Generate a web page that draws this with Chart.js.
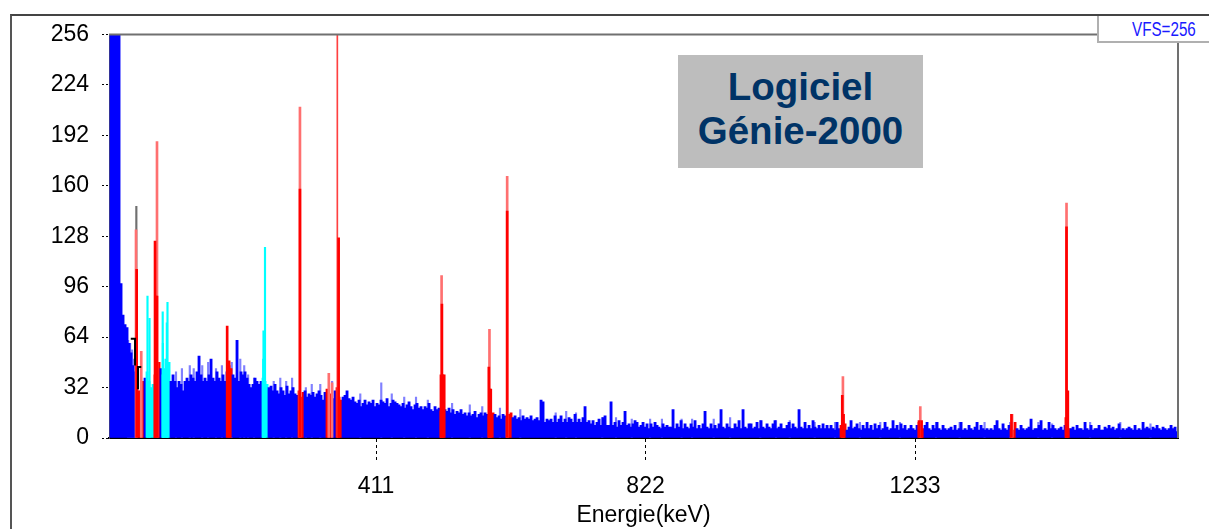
<!DOCTYPE html>
<html>
<head>
<meta charset="utf-8">
<script src="https://cdn.jsdelivr.net/npm/chart.js@4"></script>
<style>
  body { margin: 0; background: #fff; }
  #page { position: relative; width: 1209px; height: 529px; overflow: hidden; font-family: "Liberation Sans", Arial, sans-serif; }
  #frame { position: absolute; left: 10px; top: 14px; right: -5px; bottom: -5px; border-top: 2px solid #444; border-left: 2px solid #555; }
  #vfs { position: absolute; left: 1097px; top: 16px; width: 120px; height: 25px; background: #fff; border-style: solid; border-width: 0 0 2px 2px; border-color: #b0b0b0; color: #1a1aff; font: 20px/26px "Liberation Sans", sans-serif; }
  #vfs span { position: absolute; left: 33px; transform: scaleX(0.76); transform-origin: left center; white-space: nowrap; }
  #logo { position: absolute; left: 678px; top: 55px; width: 245px; height: 113px; background: #bdbdbd; color: #003366; font-weight: bold; font-size: 38.5px; line-height: 44px; text-align: center; padding-top: 10px; box-sizing: border-box; }
</style>
</head>
<body>
<div id="page">
  <canvas id="grafico" width="1209" height="529"></canvas>
  <div id="frame"></div>
  <div id="vfs"><span>VFS=256</span></div>
  <div id="logo">Logiciel<br>Génie-2000</div>
</div>
<script>
// spectrum, one value per bin
const firstKeV = 6.9;
const binKeV = 3.05;
const counts = [
  256,256,256,256,256,98,78,72,70,60,54,46,42,38,30,30,36,38,42,36,
  32,34,40,46,48,44,40,42,46,48,36,40,36,32,36,34,30,36,38,36,
  40,38,36,42,52,40,36,38,36,40,50,38,36,42,38,36,40,36,42,46,
  44,40,38,62,36,42,40,42,38,34,32,34,38,36,34,36,38,36,34,32,
  33,30,34,30,28,32,30,27,33,28,30,32,28,27,30,26,29,30,26,28,
  27,29,26,28,30,27,24,29,31,26,28,25,30,32,26,24,26,27,30,25,
  24,26,23,22,24,20,22,24,21,23,22,24,20,22,21,24,23,22,25,20,
  22,24,23,22,21,20,22,19,21,23,20,18,21,22,19,20,18,20,19,22,
  18,17,20,18,19,17,16,18,17,19,16,18,15,17,16,18,15,16,14,16,
  14,15,17,13,15,16,14,16,15,14,13,16,15,13,14,12,15,14,13,15,
  16,13,14,12,13,11,14,12,13,12,14,11,12,13,11,24,23,10,12,11,
  12,10,14,10,12,14,10,12,10,13,12,10,15,10,12,10,13,20,10,11,
  9,11,8,10,12,8,13,14,8,8,23,8,10,7,11,8,10,17,8,9,
  7,9,11,10,7,8,10,7,9,6,9,7,10,8,7,6,9,7,8,7,
  7,18,6,9,7,11,6,9,7,6,9,7,11,6,8,6,9,17,7,6,
  9,6,8,6,9,18,7,6,9,7,6,6,9,7,11,6,18,7,6,9,
  9,6,7,10,6,11,7,6,9,7,6,9,11,6,7,9,6,6,8,10,
  6,9,7,6,18,7,6,10,6,8,6,11,7,6,8,6,9,6,8,6,
  8,6,5,10,6,8,6,9,5,7,11,6,7,9,6,5,8,6,10,6,
  8,5,9,6,8,5,6,10,7,5,6,11,6,8,5,9,6,8,5,6,
  8,6,5,8,10,5,6,8,10,6,5,8,6,10,6,5,8,6,5,6,
  7,5,8,5,6,10,5,6,5,8,6,5,7,10,5,8,6,5,6,5,
  6,5,8,11,6,5,9,6,5,8,6,5,10,6,5,8,6,5,6,7,
  12,5,6,6,8,11,5,6,5,10,6,8,6,5,6,7,5,8,6,6,
  6,7,5,8,6,6,5,10,6,5,8,5,6,6,8,5,5,7,6,8,
  6,7,5,6,9,5,6,5,6,7,6,5,8,5,6,5,10,6,7,6,
  5,7,6,8,6,5,7,6,5,6,8,6,7,4
];

// paler tips above the spectrum
const tipEnergy = [33,36,39,42,106,115,127,133,146,155,167,176,191,204,210,216,225,255,265,274,283,304,313,326,344,387,419,435,454,472,490,527,554,573,600,631,685,701,716,756,777,801,829,847,877,893,926,951,997,1021,1042,1080,1111,1149,1180,1210,1265,1301,1339,1378,1421,1442,1500,1546,1592];
const tipCount = [62,60,56,50,42,44,46,44,46,48,44,46,48,50,46,40,38,36,38,36,38,32,34,34,36,28,35,28,26,26,24,22,21,20,19,18,16,17,16,13,13,12,12,12,12,12,12,13,11,11,11,10,10,10,10,10,10,10,10,10,10,9,10,10,9];

// regions of interest, keV
const redStart = [44,52,72,184,292,335,350,509,581,608,1120,1237,1379,1462];
const redEnd = [50,58,82,191,300,345,358,516,590,617,1129,1246,1386,1469];
const cyanStart = [60,85,236];
const cyanEnd = [71,97,247];

// peaks
const paleEnergy = [45,53,77,295,339,344,511,584,611,1123,1241,1381,1464];
const paleCount = [132,55,188,210,41,35,103,69,166,39,20,15,149];
const solidEnergy = [46,74,75.5,77,184,187,295,354,510,511.5,513,515,583,584.5,586,611,1122,1124,1239,1243,1380,1463,1464,1466];
const solidCount = [107,125,90,90,71,49,158,127,40,85,40,40,45,31,31,144,27,15,11,11,15,13,134,30];
const thinEnergy = [352];
const thinCount = [256];
const cyanEnergy = [62.5,65.6,85.7,86,88,90,92,93,239,239.4,241,241.7];
const cyanCount = [90,76,80,60,44,50,73,86,50,68,60,121];
const greyEnergy = [45.5];
const greyCount = [147];

// the two small black brackets
const bracketAEnergy = [37,43.5,43.5];
const bracketACount = [63,63,46];
const bracketBEnergy = [53,48,48];
const bracketBCount = [45,45,31];

const yTicks = [0,32,64,96,128,160,192,224,256];
const xTicks = [411,822,1233];

function pontos(xs, ys) {
  return ys.map((y, i) => ({ x: xs[i], y: y }));
}

function corBin(ctx) {
  const e = ctx.raw.x;
  if (redStart.some((s, i) => e >= s && e <= redEnd[i])) return '#ff0000';
  if (cyanStart.some((s, i) => e >= s && e <= cyanEnd[i])) return '#00ffff';
  return '#0000ff';
}

const bordas = {
  id: 'bordas',
  afterDatasetsDraw(chart) {
    const a = chart.chartArea;
    const c = chart.ctx;
    c.save();
    c.strokeStyle = '#707070';
    c.lineWidth = 2;
    c.beginPath();
    c.moveTo(a.left, a.top);
    c.lineTo(a.right, a.top);
    c.lineTo(a.right, a.bottom);
    c.stroke();
    c.restore();
  }
};

const configSpectre = {
  type: 'bar',
  data: {
    datasets: [
      { data: pontos(tipEnergy, tipCount), backgroundColor: '#8080ff', barThickness: 1.5, grouped: false, order: 5 },
      { data: counts.map((c, i) => ({ x: firstKeV + i * binKeV, y: c })), backgroundColor: corBin, barThickness: 2.2, grouped: false, order: 4 },
      { data: pontos(greyEnergy, greyCount), backgroundColor: '#707070', barThickness: 1.5, grouped: false, order: 3.5 },
      { data: pontos(paleEnergy, paleCount), backgroundColor: '#ff7070', barThickness: 2, grouped: false, order: 3 },
      { data: pontos(cyanEnergy, cyanCount), backgroundColor: '#00ffff', barThickness: 1.5, grouped: false, order: 2 },
      { data: pontos(thinEnergy, thinCount), backgroundColor: '#ff4040', barThickness: 1, grouped: false, order: 1.5 },
      { data: pontos(solidEnergy, solidCount), backgroundColor: '#ff0000', barThickness: 2, grouped: false, order: 1 },
      { type: 'line', data: pontos(bracketAEnergy, bracketACount), borderColor: '#000', borderWidth: 2, pointRadius: 0, order: 0 },
      { type: 'line', data: pontos(bracketBEnergy, bracketBCount), borderColor: '#000', borderWidth: 2, pointRadius: 0, order: 0 }
    ]
  },
  options: {
    responsive: false,
    animation: false,
    layout: { padding: { top: 34.5, right: 31 } },
    plugins: { legend: { display: false }, tooltip: { enabled: false } },
    scales: {
      x: {
        type: 'linear',
        min: 3.8,
        max: 1634,
        offset: false,
        afterFit: (s) => { s.height = 91; },
        afterBuildTicks: (s) => { s.ticks = xTicks.map(v => ({ value: v })); },
        border: { color: '#000', width: 2 },
        grid: { offset: false, drawOnChartArea: false, tickLength: 23, tickColor: '#000', tickBorderDash: [3, 3] },
        ticks: { color: '#000', font: { family: 'Liberation Sans', size: 23 }, padding: 12, maxRotation: 0, autoSkip: false, callback: (v) => String(v) },
        title: { display: true, text: 'Energie(keV)', color: '#000', font: { family: 'Liberation Sans', size: 23 }, padding: 0 }
      },
      y: {
        min: 0,
        max: 256,
        afterFit: (s) => { s.width = 109; },
        afterBuildTicks: (s) => { s.ticks = yTicks.map(v => ({ value: v })); },
        border: { color: '#555', width: 1 },
        grid: { drawOnChartArea: false, tickLength: 7, tickColor: '#000', tickBorderDash: [2, 2] },
        ticks: { color: '#000', font: { family: 'Liberation Sans', size: 23 }, padding: 13, autoSkip: false }
      }
    }
  },
  plugins: [bordas]
};

const spectre = new Chart(document.getElementById('grafico'), configSpectre);
</script>
</body>
</html>
